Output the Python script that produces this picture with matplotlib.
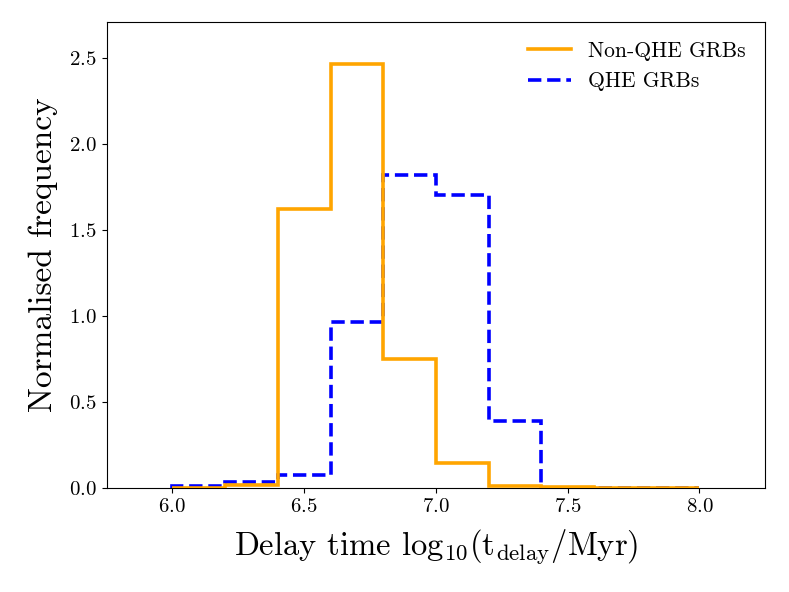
import matplotlib
matplotlib.use("Agg")
import matplotlib.pyplot as plt
import numpy as np

plt.rcParams["font.family"] = "serif"
plt.rcParams["font.serif"] = ["cmr10"]
plt.rcParams["mathtext.fontset"] = "cm"
plt.rcParams["axes.formatter.use_mathtext"] = True

# bin edges of the delay time histogram
edges = [6.0, 6.2, 6.4, 6.6, 6.8, 7.0, 7.2, 7.4, 7.6, 7.8, 8.0]

# normalised frequencies
non_qhe = [0.005, 0.018, 1.624, 2.465, 0.754, 0.145, 0.016, 0.006, 0.005, 0.004]
qhe = [0.013, 0.035, 0.076, 0.969, 1.821, 1.705, 0.389, 0.0, 0.0, 0.0]

fig = plt.figure(figsize=(7.89, 5.92), dpi=100)
ax = fig.add_axes([0.135, 0.175, 0.835, 0.788])
ax.stairs(non_qhe, edges, color="orange", lw=2.6, label="Non-QHE GRBs", zorder=3)
ax.stairs(qhe, edges, color="blue", lw=2.6, ls="--", label="QHE GRBs", zorder=2)

ax.set_xlim(5.75, 8.25)
ax.set_ylim(0, 2.71)
ax.set_xticks([6.0, 6.5, 7.0, 7.5, 8.0])
ax.set_yticks([0.0, 0.5, 1.0, 1.5, 2.0, 2.5])
ax.tick_params(labelsize=15)
ax.set_xlabel(r"Delay time $\mathrm{log_{10}(t_{delay}/Myr)}$", fontsize=23.5, labelpad=8)
ax.set_ylabel("Normalised frequency", fontsize=24, labelpad=8)
ax.legend(loc="upper right", frameon=False, fontsize=15.5)

plt.savefig("out.png", dpi=100)
